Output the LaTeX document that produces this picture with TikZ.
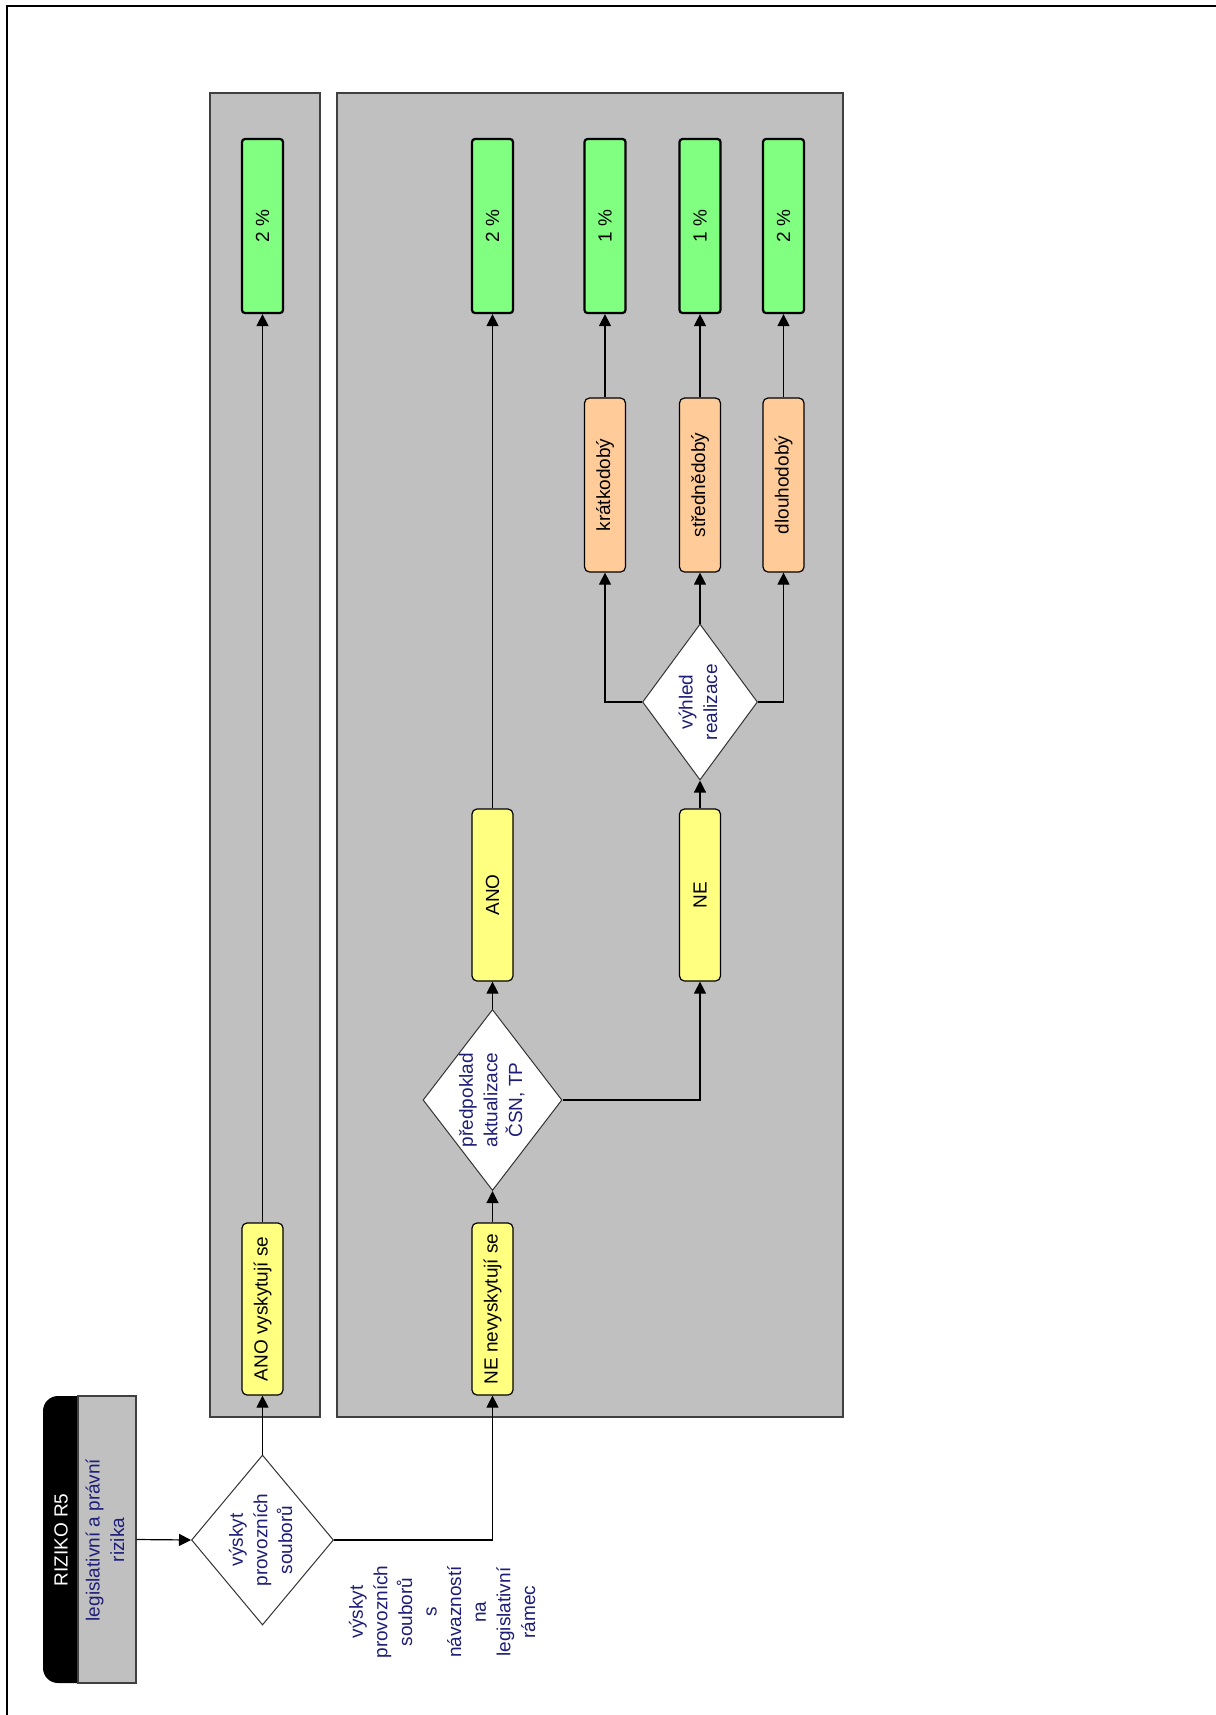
\documentclass[tikz,border=0pt]{standalone}
\usepackage{fontspec}
\setmainfont{Liberation Sans}
\usetikzlibrary{shapes.geometric,arrows.meta}
\definecolor{lanegray}{RGB}{192,192,192}
\definecolor{boxgreen}{RGB}{128,255,128}
\definecolor{boxyellow}{RGB}{255,255,128}
\definecolor{boxorange}{RGB}{255,204,153}
\definecolor{navytext}{RGB}{30,30,120}
\definecolor{edgegray}{RGB}{64,64,64}
\newcommand\rtxt[1]{\rotatebox{90}{\begin{tabular}{@{}c@{}}#1\end{tabular}}}
\begin{document}
\begin{tikzpicture}[x=0.5pt,y=-0.5pt, font=\fontsize{9.5}{12.3}\selectfont,
 lane/.style={draw=edgegray, fill=lanegray, line width=0.6pt, minimum height=662pt, inner sep=0pt},
 vbox/.style={draw=black, line width=0.6pt, minimum width=20.5pt, minimum height=86pt, inner sep=0pt, rounded corners=2.5pt},
 gbox/.style={vbox, fill=boxgreen, line width=1.1pt, rounded corners=1.5pt, minimum height=87pt},
 ybox/.style={vbox, fill=boxyellow},
 obox/.style={vbox, fill=boxorange, minimum height=87pt},
 dia/.style={diamond, draw=black!80, fill=white, line width=0.5pt, inner sep=0pt},
 dtext/.style={text=navytext, inner sep=0pt},
 conn/.style={line width=0.6pt},
 arr/.style={conn, -{Triangle[length=6pt,width=6pt]}}]
\useasboundingbox (0,0) rectangle (1216,1715);
\fill[white] (0,0) rectangle (1216,1715);
\draw[line width=1pt] (7,1715) -- (7,6) -- (1216,6);

% lanes
\node[lane, minimum width=55pt] (lane1) at (265,755) {};
\node[lane, minimum width=253pt] (lane2) at (590,755) {};

% risk header
\fill[black, rounded corners=7.5pt] (110,1396) -- (43,1396) -- (43,1683) -- (110,1683) -- cycle;
\node[draw=edgegray, fill=lanegray, line width=0.6pt, minimum width=29pt, minimum height=143.5pt, inner sep=0pt] (r5) at (107,1539.5) {};
\node[text=white, inner sep=0pt] (r5title) at (61,1540) {\rotatebox{90}{RIZIKO R5}};
\node[dtext] (r5text) at (107,1540) {\rtxt{legislativní a právní\\rizika}};

% diamonds
\node[dia, minimum width=71pt, minimum height=85pt] (d1) at (262.5,1540) {};
\node[dtext] (d1t) at (d1.center) {\rtxt{výskyt\\provozních\\souborů}};
\node[dia, minimum width=69.5pt, minimum height=90.5pt] (d2) at (492.5,1100) {};
\node[dtext] (d2t) at (d2.center) {\rtxt{předpoklad\\aktualizace\\ČSN, TP}};
\node[dia, minimum width=57.5pt, minimum height=78pt] (d3) at (700,702) {};
\node[dtext] (d3t) at (d3.center) {\rtxt{výhled\\realizace}};

% yellow boxes
\node[ybox] (y1) at (262.5,1309) {\rotatebox{90}{ANO vyskytují se}};
\node[ybox] (y2) at (492.5,1309) {\rotatebox{90}{NE nevyskytují se}};
\node[ybox] (y3) at (492.5,895) {\rotatebox{90}{ANO}};
\node[ybox] (y4) at (700,895) {\rotatebox{90}{NE}};

% orange boxes
\node[obox] (o1) at (605,485) {\rotatebox{90}{krátkodobý}};
\node[obox] (o2) at (700,485) {\rotatebox{90}{střednědobý}};
\node[obox] (o3) at (783.5,485) {\rotatebox{90}{dlouhodobý}};

% green boxes
\node[gbox] (g1) at (262.5,226) {\rotatebox{90}{2 \%}};
\node[gbox] (g2) at (492.5,226) {\rotatebox{90}{2 \%}};
\node[gbox] (g3) at (605,226) {\rotatebox{90}{1 \%}};
\node[gbox] (g4) at (700,226) {\rotatebox{90}{1 \%}};
\node[gbox] (g5) at (783.5,226) {\rotatebox{90}{2 \%}};

% side label
\node[dtext] (lbl) at (444,1612) {\rtxt{výskyt\\provozních\\souborů\\s\\návazností\\na\\legislativní\\rámec}};

% connectors
\draw[arr] (r5.east) -- (d1.west);
\draw[arr] (d1.north) -- (y1.south);
\draw[arr] (d1.east) -| (y2.south);
\draw[arr] (y1.north) -- (g1.south);
\draw[arr] (y2.north) -- (d2.south);
\draw[arr] (d2.north) -- (y3.south);
\draw[arr] (d2.east) -| (y4.south);
\draw[arr] (y3.north) -- (g2.south);
\draw[arr] (y4.north) -- (d3.south);
\draw[arr] (d3.west) -| (o1.south);
\draw[arr] (d3.north) -- (o2.south);
\draw[arr] (d3.east) -| (o3.south);
\draw[arr] (o1.north) -- (g3.south);
\draw[arr] (o2.north) -- (g4.south);
\draw[arr] (o3.north) -- (g5.south);
\end{tikzpicture}
\end{document}
